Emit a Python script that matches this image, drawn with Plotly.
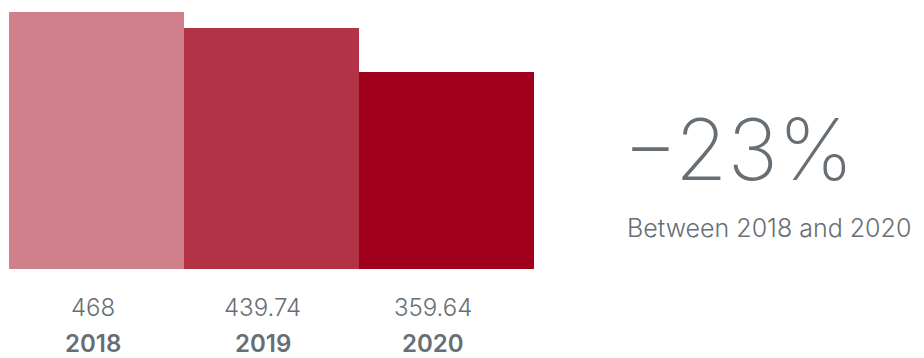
import plotly.graph_objects as go

years = ["2018", "2019", "2020"]
values = [468, 439.74, 359.64]
value_labels = ["468", "439.74", "359.64"]
bar_colors = ["#D0808B", "#B23246", "#A0001C"]
headline = "−23%"
subline = "Between 2018 and 2020"

W, H = 924, 358
TEXT = "#676E74"
FONT = "Inter"
label_shift = [-4, -9, -14]

fig = go.Figure()
fig.add_trace(go.Bar(
    x=years, y=values,
    marker=dict(color=bar_colors, line=dict(width=0)),
    hoverinfo="skip",
))

for i, (yr, lab) in enumerate(zip(years, value_labels)):
    fig.add_annotation(x=i, xref="x", y=(H - 307) / H, yref="paper",
                       text=lab, showarrow=False, yanchor="middle", xshift=label_shift[i],
                       font=dict(family=FONT, size=24, color=TEXT, weight=300))
    fig.add_annotation(x=i, xref="x", y=(H - 343) / H, yref="paper",
                       text=yr, showarrow=False, yanchor="middle", xshift=label_shift[i],
                       font=dict(family=FONT, size=24, color=TEXT, weight=600))

fig.add_annotation(x=621 / W, xref="paper", y=(H - 150) / H, yref="paper",
                   text=headline, showarrow=False, xanchor="left", yanchor="middle",
                   font=dict(family=FONT, size=85, color=TEXT, weight=200))
fig.add_annotation(x=625 / W, xref="paper", y=(H - 228) / H, yref="paper",
                   text=subline, showarrow=False, xanchor="left", yanchor="middle",
                   font=dict(family=FONT, size=25, color=TEXT, weight=300))

fig.update_layout(
    width=W, height=H,
    margin=dict(l=0, r=0, t=0, b=0),
    paper_bgcolor="white", plot_bgcolor="white",
    bargap=0, showlegend=False,
    xaxis=dict(type="category", domain=[9 / W, 534 / W], range=[-0.5, len(years) - 0.5],
               showticklabels=False, showgrid=False, zeroline=False, showline=False, ticks=""),
    yaxis=dict(domain=[(H - 269) / H, (H - 12) / H], range=[0, 468], visible=False,
               showgrid=False, zeroline=False),
)

fig.write_html("out.html", config={"displayModeBar": False})
